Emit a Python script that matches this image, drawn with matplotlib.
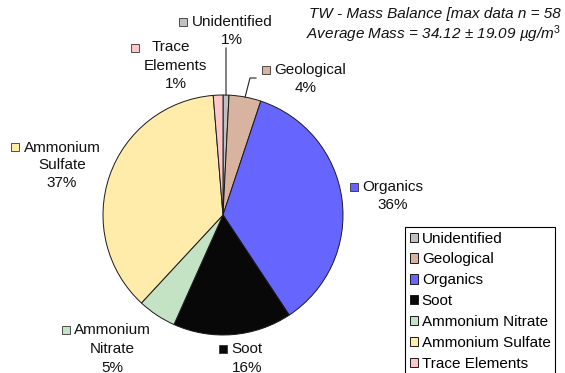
import numpy as np
import matplotlib.pyplot as plt
from matplotlib.patches import Rectangle

plt.rcParams['font.family'] = ['Liberation Sans', 'DejaVu Sans']
plt.rcParams['mathtext.fontset'] = 'custom'
plt.rcParams['mathtext.rm'] = 'Liberation Sans'
plt.rcParams['mathtext.it'] = 'Liberation Sans:italic'

# mass balance shares (%)
categories = ['Unidentified', 'Geological', 'Organics', 'Soot',
              'Ammonium Nitrate', 'Ammonium Sulfate', 'Trace Elements']
shares = [0.8, 4.3, 35.6, 16.0, 5.2, 36.8, 1.3]
colors = ['#C0C0C0', '#D8B4A0', '#6666FF', '#080808',
          '#C4E2C4', '#FFEBAA', '#FFC6CA']
label_lines = [['Unidentified'], ['Geological'], ['Organics'], ['Soot'],
               ['Ammonium', 'Nitrate'], ['Ammonium', 'Sulfate'], ['Trace', 'Elements']]

title_lines = ['TW - Mass Balance [max data n = 58',
               'Average Mass = 34.12 \u00b1 19.09 \u00b5g/m$^{3}$']

W, H = 565, 373
FS = 11

# label placement in pixels from the top-left corner
layout = {
    'Unidentified':     dict(key=(183, 22), x=[232, 232], y=[22, 40], leader=[(226, 48)]),
    'Geological':       dict(key=(266, 70), x=[310, 306], y=[70, 88], leader=[(256, 78), (250, 78)]),
    'Organics':         dict(key=(354, 187), x=[393, 393], y=[187, 205]),
    'Soot':             dict(key=(223, 349), x=[247, 247], y=[349, 368]),
    'Ammonium Nitrate': dict(key=(66, 330), x=[112, 112, 112], y=[330, 349, 368]),
    'Ammonium Sulfate': dict(key=(15, 147), x=[62, 62, 62], y=[148, 165, 183]),
    'Trace Elements':   dict(key=(135, 48), x=[171, 175, 176], y=[47, 66, 84]),
}


def Y(y):
    return H - y


fig = plt.figure(figsize=(W / 100, H / 100), dpi=100)
ax = fig.add_axes([0, 0, 1, 1])

cx, cy, r = 223, Y(215), 120
wedges, _ = ax.pie(shares, colors=colors, startangle=90, counterclock=False,
                   center=(cx, cy), radius=r,
                   wedgeprops=dict(edgecolor='#1a1a1a', linewidth=0.7))
ax.set_xlim(0, W)
ax.set_ylim(0, H)
ax.axis('off')

for w, name, lines, val, col in zip(wedges, categories, label_lines, shares, colors):
    lay = layout[name]
    texts = lines + [f'{val:.0f}%']
    for t, tx, ty in zip(texts, lay['x'], lay['y']):
        ax.text(tx, Y(ty), t, ha='center', va='center', fontsize=FS, color='#111111')
    kx, ky = lay['key']
    ax.add_patch(Rectangle((kx - 4, Y(ky) - 4), 8, 8, facecolor=col,
                           edgecolor='#333333', linewidth=0.6))
    if 'leader' in lay:
        mid = np.deg2rad((w.theta1 + w.theta2) / 2)
        px = [p[0] for p in lay['leader']] + [cx + r * np.cos(mid)]
        py = [Y(p[1]) for p in lay['leader']] + [cy + r * np.sin(mid)]
        ax.plot(px, py, color='#222222', linewidth=0.8)

for i, t in enumerate(title_lines):
    ax.text(561, Y(14 + 20 * i), t, ha='right', va='center',
            fontsize=FS, style='italic', color='#111111')

leg = ax.legend(wedges, categories, loc='upper left',
                bbox_to_anchor=(405 / W, 1 - 227 / H), bbox_transform=fig.transFigure,
                frameon=True, fancybox=False, edgecolor='black', framealpha=1,
                fontsize=FS, handlelength=0.55, handleheight=0.55,
                handletextpad=0.25, labelspacing=0.45, borderpad=0.3,
                borderaxespad=0)
leg.get_frame().set_linewidth(0.8)

fig.savefig('out.png', dpi=100)
